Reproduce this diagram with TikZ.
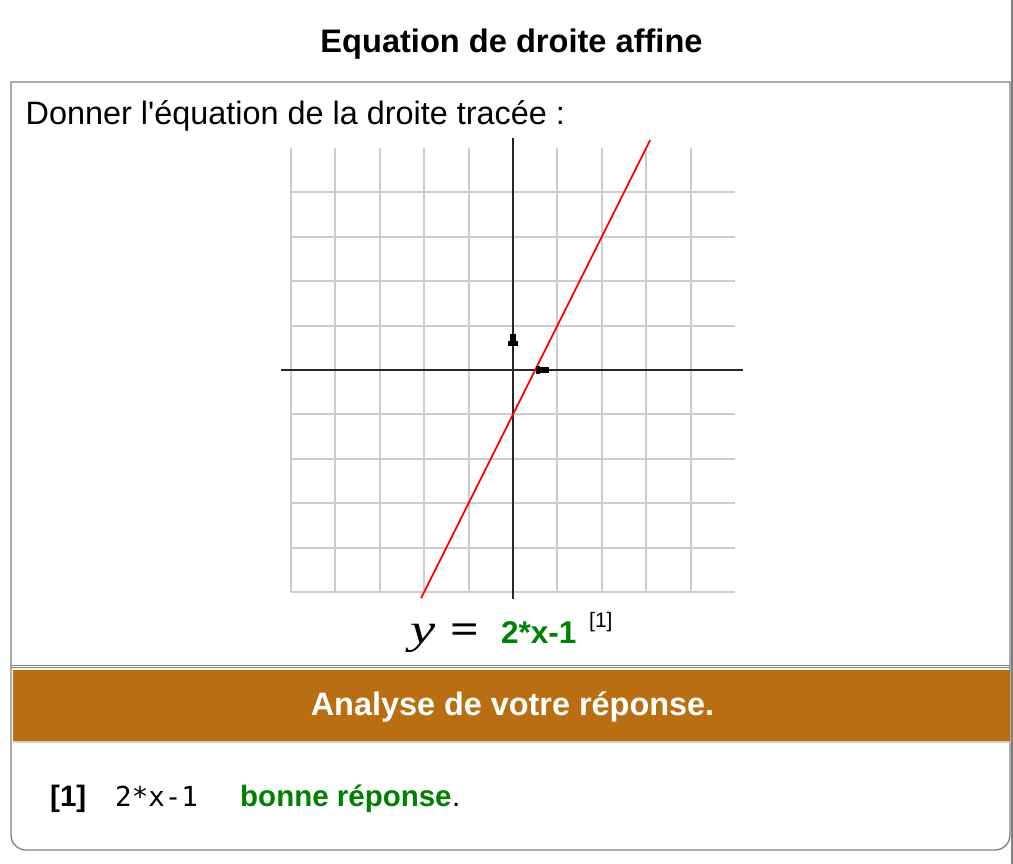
\documentclass[tikz,border=0pt]{standalone}
\usepackage{fontspec}
\setmainfont{Liberation Sans}
\newfontfamily\codefont{DejaVu Sans Mono}
\newfontfamily\serfont{Liberation Serif}
\usepackage{tikz}
\usetikzlibrary{calc}
\definecolor{bannerbrown}{RGB}{185,110,18}
\definecolor{okgreen}{RGB}{0,128,0}
\definecolor{framegray}{RGB}{128,128,128}
\definecolor{gridgray}{RGB}{205,205,205}

\begin{document}
\begin{tikzpicture}[x=1pt,y=-1pt,
  txt/.style={inner sep=0pt,anchor=base west,font=\fontsize{32.4}{38}\selectfont},
  frame/.style={color=framegray,line width=1.3pt},
  gridline/.style={color=gridgray,line width=2pt},
  axis/.style={color=black!85,line width=2pt}]
\useasboundingbox (0,0) rectangle (1013,864);
\fill[white] (0,0) rectangle (1013,864);

\draw[frame] (1012,0) -- (1012,864);
\draw[frame] (1010,82) -- (11,82) -- (11,835) arc[start angle=180,end angle=90,radius=15]
  -- (995,850) arc[start angle=90,end angle=0,radius=15] -- cycle;
\draw[frame,line width=1pt] (11,665) -- (1010,665);
\draw[frame,line width=1pt] (11,667.5) -- (1010,667.5);
\fill[bannerbrown] (13,669.5) rectangle (1009.5,741);
\draw[gridgray,line width=1.5pt] (13,742) -- (1009.5,742);

\node[txt,anchor=base,font=\fontsize{32.6}{38}\selectfont\bfseries] (title) at (511.5,53) {Equation de droite affine};
\node[txt] (question) at (25.5,125) {Donner l\textquotesingle équation de la droite tracée :};

\begin{scope}[shift={(513pt,-370pt)},x=44.4pt,y=44.4pt]
\foreach \k in {-5,...,4} {
  \draw[gridline] (\k,-5) -- (\k,5);
  \draw[gridline] (-5,\k) -- (5,\k);
}
\draw[axis] (-5.22,0) -- (5.18,0);
\draw[axis] (0,-5.15) -- (0,5.22);
\draw[red,line width=1.8pt] (-2.07,-5.14) -- (3.09,5.18);
\end{scope}
\fill (510,334) rectangle (516,346);
\fill (508,341) rectangle (518,346);
\fill (536,366) rectangle (540,374);
\fill (536,367) rectangle (549,373);

\node[txt,font=\serfont\fontsize{42}{48}\selectfont] (lhs) at (410,643) {\scalebox{1.35}[1]{\itshape y}\hspace{15pt}\scalebox{1.2}[1]{\bfseries =}};
\node[txt,font=\fontsize{31.5}{38}\selectfont\bfseries,text=okgreen] (rhs) at (501,643) {2*x-1};
\node[txt,font=\fontsize{21}{25}\selectfont] (ref) at (589,627) {[1]};

\node[txt,anchor=base,font=\fontsize{32.4}{38}\selectfont\bfseries,text=white] (analyse) at (512.5,715) {Analyse de votre réponse.};

\node[txt,font=\fontsize{29.5}{35}\selectfont\bfseries] (num) at (50,806) {[1]};
\node[txt,font=\codefont\fontsize{27.5}{33}\selectfont] (given) at (115,806) {2*x-1};
\node[txt,font=\fontsize{29.5}{35}\selectfont\bfseries,text=okgreen] (verdict) at (240,806) {bonne réponse};
\node[txt,font=\fontsize{29.5}{35}\selectfont] (stop) at (verdict.base east) {.};
\end{tikzpicture}
\end{document}
